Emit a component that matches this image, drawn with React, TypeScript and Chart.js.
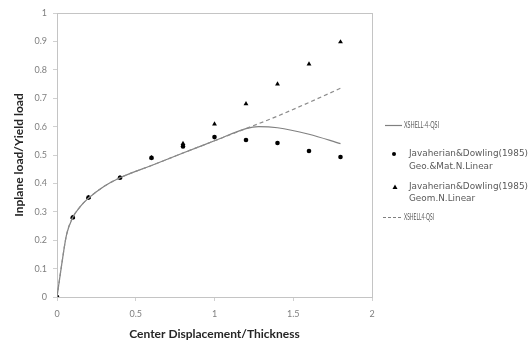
import { useEffect, useRef } from "react";
import { Chart, registerables } from "chart.js";

Chart.register(...registerables);

// XSHELL-4-QSI (solid)
const solidX = [0, 0.03, 0.06, 0.1, 0.15, 0.2, 0.3, 0.4, 0.6, 0.8, 1.0, 1.2, 1.28, 1.4, 1.6, 1.8];
const solidY = [0, 0.115, 0.218, 0.28, 0.32, 0.348, 0.39, 0.42, 0.463, 0.507, 0.55, 0.593, 0.6, 0.596, 0.573, 0.54];
// XSHELL4-QSI (dashed)
const dashX = [0, 0.03, 0.06, 0.1, 0.15, 0.2, 0.3, 0.4, 0.6, 0.8, 1.0, 1.2, 1.4, 1.6, 1.8];
const dashY = [0, 0.115, 0.218, 0.28, 0.32, 0.348, 0.39, 0.42, 0.463, 0.507, 0.55, 0.593, 0.637, 0.685, 0.735];
// Javaherian&Dowling(1985) Geo.&Mat.N.Linear (circles)
const geoMatX = [0, 0.1, 0.2, 0.4, 0.6, 0.8, 1.0, 1.2, 1.4, 1.6, 1.8];
const geoMatY = [0, 0.28, 0.35, 0.42, 0.49, 0.53, 0.563, 0.553, 0.542, 0.514, 0.493];
// Javaherian&Dowling(1985) Geom.N.Linear (triangles)
const geomX = [0, 0.1, 0.2, 0.4, 0.6, 0.8, 1.0, 1.2, 1.4, 1.6, 1.8];
const geomY = [0, 0.28, 0.35, 0.42, 0.49, 0.54, 0.609, 0.68, 0.75, 0.82, 0.898];

const xTitle = "Center Displacement/Thickness";
const yTitle = "Inplane load/Yield load";
const legendSolid = "XSHELL-4-QSI";
const legendCircle = ["Javaherian&Dowling(1985)", "Geo.&Mat.N.Linear"];
const legendTri = ["Javaherian&Dowling(1985)", "Geom.N.Linear"];
const legendDash = "XSHELL4-QSI";

const pts = (xs: number[], ys: number[]) => xs.map((x, i) => ({ x, y: ys[i] }));

const framePlugin = {
  id: "frame",
  beforeDatasetsDraw(chart: any) {
    const { ctx, chartArea: a } = chart;
    ctx.save();
    ctx.strokeStyle = "#c4c4c4";
    ctx.lineWidth = 1;
    ctx.strokeRect(Math.round(a.left) + 0.5, Math.round(a.top) + 0.5, Math.round(a.right - a.left), Math.round(a.bottom - a.top));
    ctx.restore();
  },
};

const legendPlugin = {
  id: "customLegend",
  afterDraw(chart: any) {
    const { ctx } = chart;
    ctx.save();
    ctx.fillStyle = "#595959";
    ctx.textBaseline = "middle";
    ctx.textAlign = "left";
    const shortFont = "9px Lato";
    const longFont = "9px 'DejaVu Sans'";
    const drawScaled = (t: string, x: number, y: number, sx: number) => {
      ctx.save();
      ctx.translate(x, y);
      ctx.scale(sx, 1);
      ctx.fillText(t, 0, 0);
      ctx.restore();
    };
    const fit = (t: string, target: number) => {
      const w = ctx.measureText(t).width;
      return w > 0 ? target / w : 1;
    };
    // solid
    ctx.strokeStyle = "#808080";
    ctx.lineWidth = 1.2;
    ctx.beginPath();
    ctx.moveTo(385, 125.5);
    ctx.lineTo(402, 125.5);
    ctx.stroke();
    ctx.font = shortFont;
    drawScaled(legendSolid, 404, 125, fit(legendSolid, 35));
    // dashed
    ctx.setLineDash([3, 2]);
    ctx.beginPath();
    ctx.moveTo(383, 217.5);
    ctx.lineTo(401, 217.5);
    ctx.stroke();
    ctx.setLineDash([]);
    drawScaled(legendDash, 404, 217, fit(legendDash, 30));
    // circle
    ctx.fillStyle = "#000";
    ctx.beginPath();
    ctx.arc(394, 154, 2, 0, Math.PI * 2);
    ctx.fill();
    // triangle
    ctx.beginPath();
    ctx.moveTo(395, 184.5);
    ctx.lineTo(397.5, 189);
    ctx.lineTo(392.5, 189);
    ctx.closePath();
    ctx.fill();
    // long labels
    ctx.fillStyle = "#595959";
    ctx.font = longFont;
    const sx = fit(legendCircle[0], 119);
    drawScaled(legendCircle[0], 409, 154, sx);
    drawScaled(legendCircle[1], 409, 167, sx);
    drawScaled(legendTri[0], 409, 187, sx);
    drawScaled(legendTri[1], 409, 199, sx);
    ctx.restore();
  },
};

export default function App() {
  const ref = useRef<HTMLCanvasElement>(null);
  useEffect(() => {
    if (!ref.current) return;
    const chart = new Chart(ref.current, {
      type: "scatter",
      data: {
        datasets: [
          {
            label: legendDash,
            data: pts(dashX, dashY),
            showLine: true,
            borderColor: "#8c8c8c",
            borderWidth: 1.2,
            borderDash: [4, 3],
            pointRadius: 0,
            cubicInterpolationMode: "monotone",
          },
          {
            label: legendSolid,
            data: pts(solidX, solidY),
            showLine: true,
            borderColor: "#808080",
            borderWidth: 1.2,
            pointRadius: 0,
            cubicInterpolationMode: "monotone",
          },
          {
            label: legendCircle.join(" "),
            data: pts(geoMatX, geoMatY),
            pointStyle: "circle",
            pointRadius: 2.3,
            backgroundColor: "#000",
            borderColor: "#000",
            borderWidth: 0,
          },
          {
            label: legendTri.join(" "),
            data: pts(geomX, geomY),
            pointStyle: "triangle",
            pointRadius: 2.8,
            backgroundColor: "#000",
            borderColor: "#000",
            borderWidth: 0,
          },
        ],
      },
      options: {
        responsive: false,
        animation: false,
        layout: { padding: { top: 13, right: 157, left: 0, bottom: 0 } },
        plugins: { legend: { display: false }, tooltip: { enabled: false } },
        scales: {
          x: {
            type: "linear",
            min: 0,
            max: 2,
            afterFit: (s: any) => {
              s.height = 47;
            },
            ticks: {
              stepSize: 0.5,
              color: "#7f7f7f",
              font: { family: "Lato", size: 9 },
              padding: 8,
              callback: (v: any) => String(Math.round(Number(v) * 10) / 10),
            },
            grid: { display: true, drawOnChartArea: false, drawTicks: true, tickLength: 4, color: "#d0d0d0" },
            border: { display: true, color: "#c4c4c4" },
            title: {
              display: true,
              text: xTitle,
              color: "#262626",
              font: { family: "Lato", size: 12, weight: "bold" },
              padding: { top: 0, bottom: 3 },
            },
          },
          y: {
            type: "linear",
            min: 0,
            max: 1,
            afterFit: (s: any) => {
              s.width = 57;
            },
            ticks: {
              stepSize: 0.1,
              color: "#7f7f7f",
              font: { family: "Lato", size: 9 },
              padding: 6,
              callback: (v: any) => String(Math.round(Number(v) * 10) / 10),
            },
            grid: { display: true, drawOnChartArea: false, drawTicks: true, tickLength: 4, color: "#d0d0d0" },
            border: { display: true, color: "#c4c4c4" },
            title: {
              display: true,
              text: yTitle,
              color: "#262626",
              font: { family: "Lato", size: 12, weight: "bold" },
              padding: { top: 12, bottom: 0 },
            },
          },
        },
      },
      plugins: [framePlugin, legendPlugin],
    });
    return () => chart.destroy();
  }, []);
  return (
    <div style={{ position: "fixed", left: 0, top: 0, width: 529, height: 344, background: "#fff" }}>
      <canvas ref={ref} width={529} height={344} style={{ display: "block" }} />
    </div>
  );
}
